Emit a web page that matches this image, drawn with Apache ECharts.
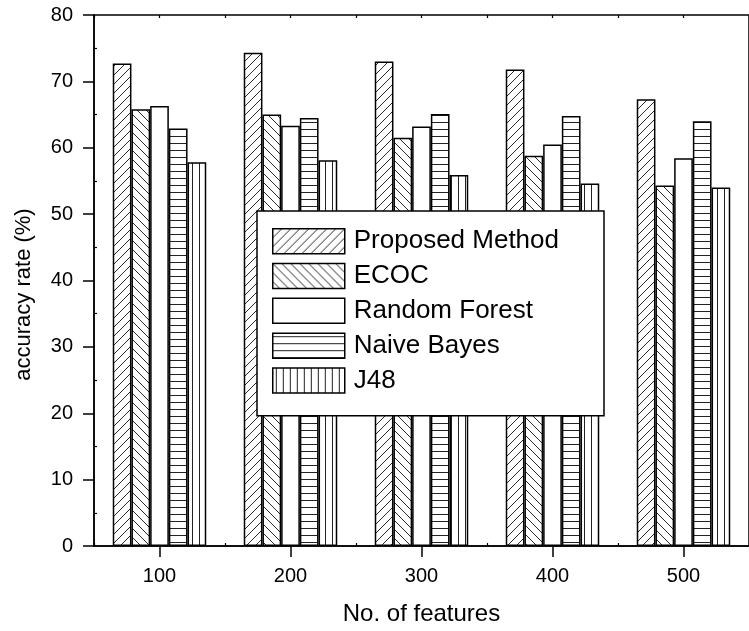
<!DOCTYPE html>
<html>
<head>
<meta charset="utf-8">
<script src="https://cdn.jsdelivr.net/npm/echarts@6/dist/echarts.min.js"></script>
<style>
html,body{margin:0;padding:0;background:#fff;}
#chart{width:749px;height:631px;}
</style>
</head>
<body>
<div id="chart"></div>
<script>
const categories = ['100', '200', '300', '400', '500'];
const seriesNames = ['Proposed Method', 'ECOC', 'Random Forest', 'Naive Bayes', 'J48'];
const proposed = [72.7, 74.3, 73.0, 71.8, 67.3];
const ecoc = [65.8, 65.0, 61.5, 58.8, 54.3];
const randomForest = [66.3, 63.3, 63.2, 60.5, 58.4];
const naiveBayes = [62.9, 64.5, 65.1, 64.8, 64.0];
const j48 = [57.8, 58.1, 55.9, 54.6, 54.0];
const yMin = 0, yMax = 80, yInterval = 10;

function makeTile(kind) {
  const c = document.createElement('canvas');
  let w = 9, h = 9;
  if (kind === 'h') { w = 8; h = 7; }
  if (kind === 'v') { w = 7; h = 8; }
  c.width = w; c.height = h;
  const ctx = c.getContext('2d');
  ctx.fillStyle = '#fff';
  ctx.fillRect(0, 0, w, h);
  ctx.strokeStyle = '#111';
  ctx.fillStyle = '#222';
  ctx.lineWidth = 0.9;
  if (kind === 'fwd') {
    ctx.beginPath();
    ctx.moveTo(0, h); ctx.lineTo(w, 0);
    ctx.moveTo(-1, 1); ctx.lineTo(1, -1);
    ctx.moveTo(w - 1, h + 1); ctx.lineTo(w + 1, h - 1);
    ctx.stroke();
  } else if (kind === 'back') {
    ctx.beginPath();
    ctx.moveTo(0, 0); ctx.lineTo(w, h);
    ctx.moveTo(w - 1, -1); ctx.lineTo(w + 1, 1);
    ctx.moveTo(-1, h - 1); ctx.lineTo(1, h + 1);
    ctx.stroke();
  } else if (kind === 'h') {
    ctx.fillRect(0, 3, w, 1);
  } else if (kind === 'v') {
    ctx.fillRect(3, 0, 1, h);
  }
  return c;
}

const fills = [
  { image: makeTile('fwd'), repeat: 'repeat' },
  { image: makeTile('back'), repeat: 'repeat' },
  '#ffffff',
  { image: makeTile('h'), repeat: 'repeat' },
  { image: makeTile('v'), repeat: 'repeat' }
];
const values = [proposed, ecoc, randomForest, naiveBayes, j48];

const chart = echarts.init(document.getElementById('chart'), null, { renderer: 'canvas' });
const font = 'Liberation Sans, Arial, sans-serif';

const series = seriesNames.map((name, i) => ({
  name: name,
  type: 'bar',
  xAxisIndex: 0,
  yAxisIndex: 0,
  data: values[i],
  barWidth: 18.7,
  barGap: '0%',
  itemStyle: { color: fills[i], borderColor: '#000', borderWidth: 1.5 },
  emphasis: { disabled: true }
}));

const option = {
  animation: false,
  backgroundColor: '#fff',
  textStyle: { fontFamily: font, color: '#000' },
  grid: {
    left: 94, top: 15, width: 664, height: 534.5,
    show: true, borderColor: '#000', borderWidth: 1.5, backgroundColor: 'transparent'
  },
  legend: {
    orient: 'vertical',
    left: 257, top: 211,
    padding: [17, 45, 22, 15],
    itemGap: 8.3,
    itemWidth: 72, itemHeight: 25,
    icon: 'rect',
    backgroundColor: '#fff',
    borderColor: '#000', borderWidth: 1.5,
    itemStyle: { borderColor: '#000', borderWidth: 1.5 },
    textStyle: { fontSize: 26, color: '#000', fontFamily: font, padding: [0, 0, 0, 4] },
    selectedMode: false,
    data: seriesNames
  },
  xAxis: [
    {
      type: 'category', data: categories, position: 'bottom',
      axisLine: { show: true, lineStyle: { color: '#000', width: 1.5 } },
      axisTick: { show: true, alignWithLabel: true, length: 11, lineStyle: { color: '#000', width: 1.5 } },
      axisLabel: { fontSize: 20, margin: 20, color: '#000', fontFamily: font },
      splitLine: { show: false },
      name: 'No. of features', nameLocation: 'middle', nameGap: 56,
      nameTextStyle: { fontSize: 24, color: '#000', fontFamily: font }
    },
    {
      type: 'category', data: categories, position: 'bottom',
      axisLine: { show: false },
      axisTick: { show: true, inside: true, length: 3, lineStyle: { color: '#000', width: 1.2 } },
      axisLabel: { show: false }, splitLine: { show: false }
    },
    {
      type: 'category', data: categories, position: 'top',
      axisLine: { show: false },
      axisTick: { show: true, inside: true, alignWithLabel: true, length: 3, lineStyle: { color: '#000', width: 1.2 } },
      axisLabel: { show: false }, splitLine: { show: false }
    },
    {
      type: 'category', data: categories, position: 'top',
      axisLine: { show: false },
      axisTick: { show: true, inside: true, length: 3, lineStyle: { color: '#000', width: 1.2 } },
      axisLabel: { show: false }, splitLine: { show: false }
    }
  ],
  yAxis: [
    {
      type: 'value', min: yMin, max: yMax, interval: yInterval, position: 'left',
      axisLine: { show: true, lineStyle: { color: '#000', width: 1.5 } },
      axisTick: { show: true, length: 11, lineStyle: { color: '#000', width: 1.5 } },
      axisLabel: { fontSize: 20, margin: 21, color: '#000', fontFamily: font },
      splitLine: { show: false },
      name: 'accuracy rate (%)', nameLocation: 'middle', nameGap: 59,
      nameTextStyle: { fontSize: 22, color: '#000', fontFamily: font, padding: [0, 28, 0, 0] }
    },
    {
      type: 'value', min: yMin, max: yMax, interval: yInterval, position: 'left',
      axisLine: { show: false },
      axisTick: { show: false, inside: true },
      minorTick: { show: true, splitNumber: 2, length: 3, lineStyle: { color: '#000', width: 1.2 } },
      axisLabel: { show: false }, splitLine: { show: false }
    }
  ],
  series: series
};
chart.setOption(option);
</script>
</body>
</html>
